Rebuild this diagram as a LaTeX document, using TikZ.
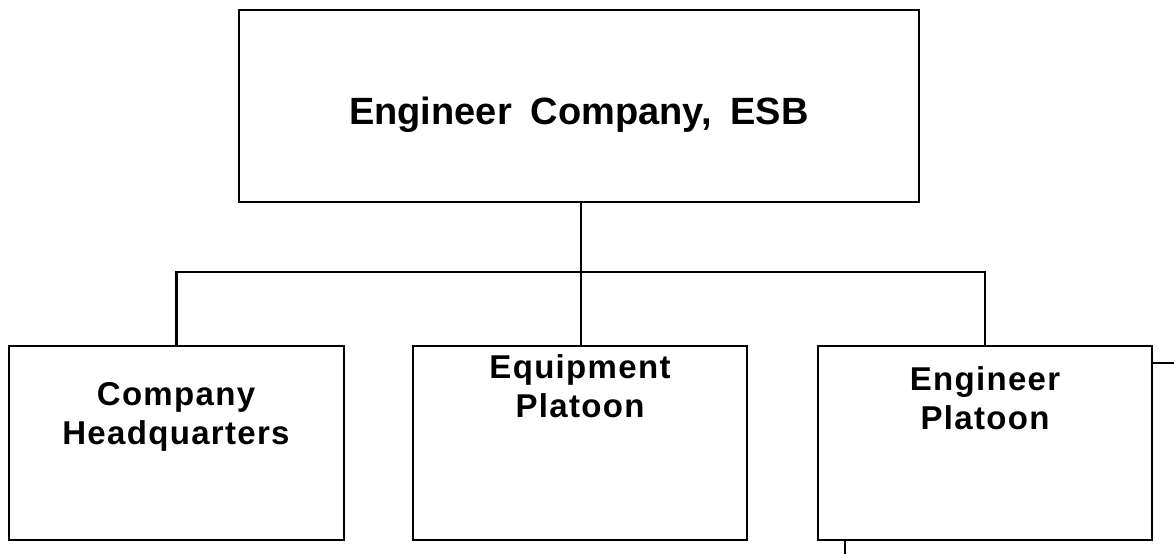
\documentclass[tikz,border=0pt]{standalone}
\usepackage{fontspec}
\setmainfont{Liberation Sans}
\newfontfamily\esbfont[WordSpace=1.8]{Liberation Sans}
\usetikzlibrary{positioning}

\begin{document}
\begin{tikzpicture}[x=1pt,y=-1pt]
\tikzset{
  unitbox/.style={draw,line width=2.2pt,inner sep=0pt},
  toptext/.style={font=\esbfont\fontsize{38}{44}\selectfont\bfseries,inner sep=0pt,anchor=base},
  boxtext/.style={font=\fontsize{33}{39}\selectfont\bfseries\addfontfeatures{LetterSpace=4},align=center,inner sep=0pt},
  link/.style={line width=2.2pt}
}
\useasboundingbox (0,0) rectangle (1174,554);
\node[unitbox,minimum width=680,minimum height=192] (n_esb) at (579,106) {};
\node[unitbox,minimum width=335,minimum height=194] (n_hq) at (176.5,443) {};
\node[unitbox,minimum width=334,minimum height=194] (n_eqp) at (580,443) {};
\node[unitbox,minimum width=334,minimum height=194] (n_engplt) at (985,443) {};
\node[toptext] (t_esb) at (579,124) {Engineer Company, ESB};
\node[boxtext] (t_hq) at (176,417) {Company\\Headquarters};
\node[boxtext] (t_eqp) at (580,386) {Equipment\\Platoon};
\node[boxtext] (t_engplt) at (985,398) {Engineer\\Platoon};
\coordinate (bus) at (581,272);
\coordinate (r_end) at (1174,363);
\coordinate (b_end) at (845,554);
\draw[link] (n_esb.south -| bus) -- (n_eqp.north -| bus);
\draw[link] (n_hq.north) |- (bus) -| (n_engplt.north);
\draw[link] (n_engplt.east |- r_end) -- (r_end);
\draw[link] (n_engplt.south -| b_end) -- (b_end);
\end{tikzpicture}
\end{document}
